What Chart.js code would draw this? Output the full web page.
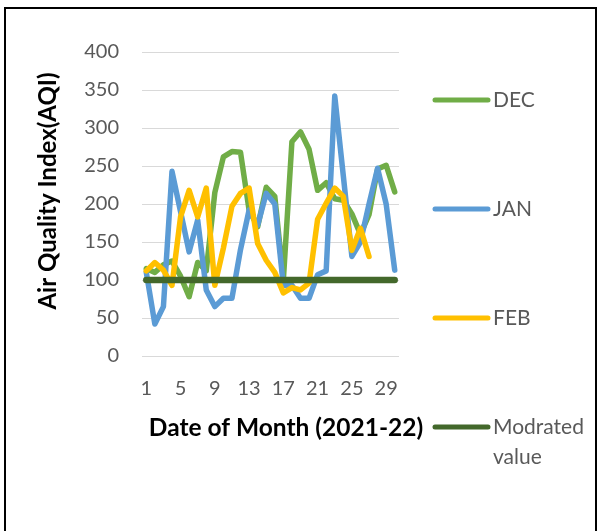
<!DOCTYPE html>
<html>
<head>
<meta charset="utf-8">
<script src="https://cdn.jsdelivr.net/npm/chart.js@4.4.0/dist/chart.umd.min.js"></script>
<style>
    body { margin: 0; background: #fff; }
    #wrap { position: relative; width: 598px; height: 531px; overflow: hidden; }
    #frame { position: absolute; left: 4px; top: 7px; width: 589px; height: 600px; border: 2px solid #000; }
    canvas { position: absolute; left: 0; top: 0; }
</style>
</head>
<body>
<div id="wrap">
    <div id="frame"></div>
    <canvas id="myChart" width="598" height="531"></canvas>
</div>
<script>
// Days on the x axis and the labels Excel shows (every 4th day)
const days = ['1', '2', '3', '4', '5', '6', '7', '8', '9', '10',
    '11', '12', '13', '14', '15', '16', '17', '18', '19', '20',
    '21', '22', '23', '24', '25', '26', '27', '28', '29', '30'];
const shownDays = ['1', '5', '9', '13', '17', '21', '25', '29'];

// AQI
const decValues = [115, 110, 120, 125, 105, 78, 123, 112, 215, 262,
    269, 268, 192, 170, 222, 210, 100, 282, 295, 272,
    218, 228, 207, 205, 187, 160, 186, 246, 251, 216];
const janValues = [110, 42, 65, 243, 190, 137, 179, 87, 65, 76,
    76, 140, 192, 172, 214, 200, 93, 93, 76, 76,
    107, 112, 342, 237, 131, 150, 200, 247, 200, 113];
const febValues = [112, 123, 113, 93, 183, 218, 183, 221, 93, 142,
    197, 214, 221, 148, 126, 110, 83, 90, 87, 96,
    180, 201, 221, 210, 139, 168, 131];
const moderatedValues = [100, 100, 100, 100, 100, 100, 100, 100, 100, 100,
    100, 100, 100, 100, 100, 100, 100, 100, 100, 100,
    100, 100, 100, 100, 100, 100, 100, 100, 100, 100];

const seriesNames = ['DEC', 'JAN', 'FEB', 'Modrated value'];
const seriesColors = ['#70ad47', '#5b9bd5', '#ffc000', '#43682b'];
const xTitle = 'Date of Month (2021-22)';
const yTitle = 'Air Quality Index(AQI)';

const FONT = 'Lato';
const legendRows = [100, 209, 318, 427];

// legend drawn on the right like the Excel one (one entry per row, wide gaps)
const sideLegend = {
    id: 'sideLegend',
    afterDraw(chart) {
        const ctx = chart.ctx;
        ctx.save();
        ctx.font = '21px ' + FONT;
        ctx.textBaseline = 'middle';
        chart.data.datasets.forEach((ds, i) => {
            const y = legendRows[i];
            ctx.strokeStyle = ds.borderColor;
            ctx.lineWidth = 5;
            ctx.lineCap = 'round';
            ctx.beginPath();
            ctx.moveTo(435, y);
            ctx.lineTo(488, y);
            ctx.stroke();

            ctx.fillStyle = '#595959';
            let lines = [ds.label];
            if (ctx.measureText(ds.label).width > 100) lines = ds.label.split(' ');
            lines.forEach((t, k) => ctx.fillText(t, 493, y + k * 30));
        });
        ctx.restore();
    }
};

// axis titles sit a bit off-centre in the original, so place them by hand
const axisTitles = {
    id: 'axisTitles',
    afterDraw(chart) {
        const ctx = chart.ctx;
        ctx.save();
        ctx.fillStyle = '#000';
        ctx.textAlign = 'center';
        ctx.textBaseline = 'middle';
        ctx.font = 'bold 24.5px ' + FONT;
        ctx.fillText(xTitle, 286, 428);
        ctx.font = 'bold 24px ' + FONT;
        ctx.translate(48, 191);
        ctx.rotate(-Math.PI / 2);
        ctx.fillText(yTitle, 0, 0);
        ctx.restore();
    }
};

const ctx = document.getElementById('myChart').getContext('2d');
const myChart = new Chart(ctx, {
    type: 'line',
    data: {
        labels: days,
        datasets: [
            { label: seriesNames[0], data: decValues, borderColor: seriesColors[0], borderWidth: 5.5, order: 3 },
            { label: seriesNames[1], data: janValues, borderColor: seriesColors[1], borderWidth: 5.5, order: 2 },
            { label: seriesNames[2], data: febValues, borderColor: seriesColors[2], borderWidth: 5.5, order: 1 },
            { label: seriesNames[3], data: moderatedValues, borderColor: seriesColors[3], borderWidth: 6.5, order: 0 }
        ]
    },
    options: {
        responsive: false,
        animation: false,
        elements: {
            point: { radius: 0 },
            line: { tension: 0, borderJoinStyle: 'round', borderCapStyle: 'round', fill: false }
        },
        layout: { padding: { left: 34, top: 52, right: 199, bottom: 89 } },
        plugins: {
            legend: { display: false },
            tooltip: { enabled: false }
        },
        scales: {
            x: {
                offset: true,
                grid: { display: false },
                border: { display: false },
                ticks: {
                    autoSkip: false,
                    maxRotation: 0,
                    color: '#595959',
                    font: { family: FONT, size: 20 },
                    padding: 13,
                    callback: function (value) {
                        const lab = this.getLabelForValue(value);
                        return shownDays.includes(lab) ? lab : '';
                    }
                },
                afterFit: s => { s.height = 86; }
            },
            y: {
                min: 0,
                max: 400,
                ticks: {
                    stepSize: 50,
                    color: '#595959',
                    font: { family: FONT, size: 20 },
                    padding: 23
                },
                grid: { color: '#d9d9d9', drawTicks: false },
                border: { display: false },
                afterFit: s => { s.width = 108; }
            }
        }
    },
    plugins: [sideLegend, axisTitles]
});
</script>
</body>
</html>
